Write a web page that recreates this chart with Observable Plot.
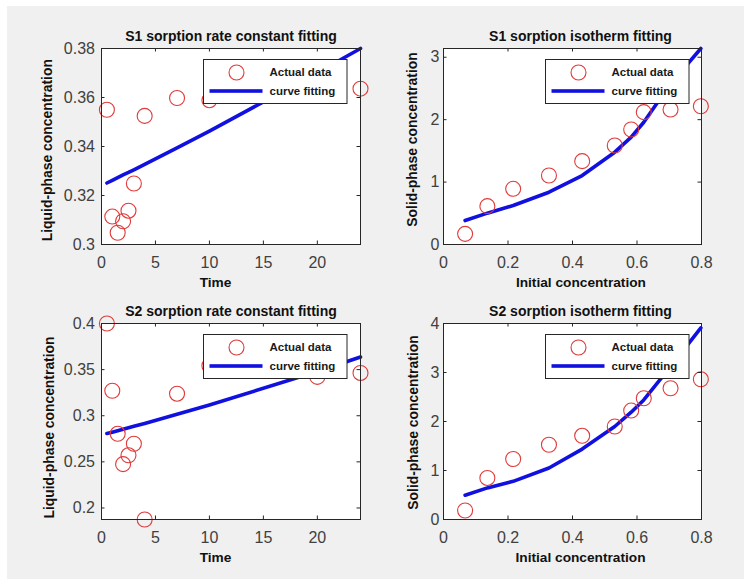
<!DOCTYPE html>
<html>
<head>
<meta charset="utf-8">
<script src="https://cdn.jsdelivr.net/npm/d3@7"></script>
<script src="https://cdn.jsdelivr.net/npm/@observablehq/plot@0.6"></script>
<style>
html, body { margin: 0; padding: 0; background: #ffffff; }
#fig { position: absolute; left: 7px; top: 6px; width: 737px; height: 573px; background: #f0f0f0; }
.panel { position: absolute; width: 376px; height: 290px; }
</style>
</head>
<body>
<div id="fig"></div>
<div id="p1" class="panel" style="left:0px;top:0px"></div>
<div id="p2" class="panel" style="left:376px;top:0px"></div>
<div id="p3" class="panel" style="left:0px;top:275px"></div>
<div id="p4" class="panel" style="left:376px;top:275px"></div>
<script>
// ---- data ----
const time = [0.5, 1, 1.5, 2, 2.5, 3, 4, 7, 10, 20, 24];
const s1Liquid = [0.355, 0.3114, 0.3048, 0.3095, 0.3138, 0.3249, 0.3525, 0.3598, 0.3589, 0.367, 0.3636];
const s1RateFit = [0.3251, 0.3262, 0.3273, 0.3284, 0.3294, 0.3305, 0.3327, 0.3394, 0.3463, 0.3701, 0.3800];
const s2Liquid = [0.400, 0.3271, 0.2804, 0.2475, 0.2571, 0.2696, 0.1875, 0.3239, 0.3543, 0.3421, 0.3464];
const s2RateFit = [0.2807, 0.2822, 0.2838, 0.2854, 0.2869, 0.2885, 0.2917, 0.3015, 0.3117, 0.3479, 0.3636];

const initialConc = [0.067, 0.136, 0.216, 0.327, 0.43, 0.531, 0.582, 0.621, 0.704, 0.798];
const s1Solid = [0.171, 0.614, 0.892, 1.105, 1.335, 1.586, 1.842, 2.12, 2.162, 2.215];
const s1IsoFit = [0.384, 0.502, 0.625, 0.838, 1.105, 1.479, 1.719, 1.959, 2.574, 3.14];
const s2Solid = [0.183, 0.848, 1.234, 1.525, 1.708, 1.898, 2.223, 2.475, 2.678, 2.861];
const s2IsoFit = [0.495, 0.645, 0.779, 1.05, 1.437, 1.898, 2.19, 2.44, 3.118, 3.911];

const timeTicks = [0, 5, 10, 15, 20];
const concTicks = [0, 0.2, 0.4, 0.6, 0.8];
const s1LiquidTicks = [0.3, 0.32, 0.34, 0.36, 0.38];
const s2LiquidTicks = [0.2, 0.25, 0.3, 0.35, 0.4];
const s1SolidTicks = [0, 1, 2, 3];
const s2SolidTicks = [0, 1, 2, 3, 4];

const titles = ["S1 sorption rate constant fitting", "S1 sorption isotherm fitting",
                "S2 sorption rate constant fitting", "S2 sorption isotherm fitting"];
const xLabels = ["Time", "Initial concentration"];
const yLabels = ["Liquid-phase concentration", "Solid-phase concentration"];
const legendLabels = ["Actual data", "curve fitting"];

// ---- styles ----
const RED = "#e03a3a";
const BLUE = "#1010e0";
const AXIS = "#262626";
const TICKTXT = "#404040";
const FONT = "'Liberation Sans', Arial, Helvetica, sans-serif";

function panel(el, cfg) {
  const W = 376, H = 290;
  const mL = cfg.left ? 101 : 67, mR = cfg.left ? 16 : 51, mT = 48, mB = 46;
  const fw = W - mL - mR, fh = H - mT - mB;
  const rows = cfg.xs.map((x, i) => ({x, obs: cfg.obs[i], fit: cfg.fit[i]}));
  const L = 102, T = 11, LW = 143.5, LH = 44;
  const chart = Plot.plot({
    width: W, height: H,
    marginLeft: mL, marginRight: mR, marginTop: mT, marginBottom: mB,
    style: {fontFamily: FONT, background: "transparent", overflow: "visible"},
    x: {domain: cfg.xDomain, label: null},
    y: {domain: cfg.yDomain, label: null},
    marks: [
      Plot.frame({fill: "white", stroke: "none"}),
      Plot.line(rows, {x: "x", y: "fit", stroke: BLUE, strokeWidth: 3.6, curve: "linear"}),
      Plot.dot(rows, {x: "x", y: "obs", r: 7.5, stroke: RED, strokeWidth: 1.1, fill: "none"}),
      // legend
      Plot.frame({fill: "white", stroke: AXIS, strokeWidth: 1,
        insetLeft: L, insetRight: fw - L - LW, insetTop: T, insetBottom: fh - T - LH}),
      Plot.dot([0], {frameAnchor: "top-left", dx: L + 33, dy: T + 13, r: 7.5, stroke: RED, strokeWidth: 1.1, fill: "none"}),
      Plot.frame({fill: BLUE, stroke: "none",
        insetLeft: L + 6, insetRight: fw - L - 59, insetTop: T + 31.5 - 1.8, insetBottom: fh - T - 31.5 - 1.8}),
      Plot.text([legendLabels[0]], {text: d => d, frameAnchor: "top-left", dx: L + 66, dy: T + 13,
        textAnchor: "start", lineAnchor: "middle", fontWeight: "bold", fontSize: 11.5, fill: "#1a1a1a"}),
      Plot.text([legendLabels[1]], {text: d => d, frameAnchor: "top-left", dx: L + 66, dy: T + 31.5,
        textAnchor: "start", lineAnchor: "middle", fontWeight: "bold", fontSize: 11.5, fill: "#1a1a1a"}),
      // box
      Plot.frame({stroke: AXIS, strokeWidth: 1}),
      // inward ticks on all sides
      Plot.ruleX(cfg.xTicks, {x: d => d, insetTop: fh - 3.5, stroke: AXIS}),
      Plot.ruleX(cfg.xTicks, {x: d => d, insetBottom: fh - 3.5, stroke: AXIS}),
      Plot.ruleY(cfg.yTicks, {y: d => d, insetRight: fw - 3.5, stroke: AXIS}),
      Plot.ruleY(cfg.yTicks, {y: d => d, insetLeft: fw - 3.5, stroke: AXIS}),
      // tick labels
      Plot.axisX(cfg.xTicks, {tickSize: 0, tickPadding: 12, tickFormat: d => String(d),
        fontSize: 16, fill: TICKTXT, label: null}),
      Plot.axisY(cfg.yTicks, {tickSize: 0, tickPadding: cfg.left ? 6.5 : 4, tickFormat: d => String(d),
        fontSize: 16, fill: TICKTXT, label: null}),
      // title, axis labels
      Plot.text([cfg.title], {text: d => d, frameAnchor: "top", dx: cfg.titleDx, dy: -11.5,
        textAnchor: "middle", lineAnchor: "middle", fontWeight: "bold", fontSize: 14, fill: "#111"}),
      Plot.text([cfg.xLabel], {text: d => d, frameAnchor: "bottom", dx: cfg.xLabelDx, dy: 38.5,
        textAnchor: "middle", lineAnchor: "middle", fontWeight: "bold", fontSize: 13.7, fill: "#111"}),
      Plot.text([cfg.yLabel], {text: d => d, frameAnchor: "left", dx: cfg.yLabelDx, dy: cfg.yLabelDy,
        rotate: -90, textAnchor: "middle", lineAnchor: "middle", fontWeight: "bold", fontSize: 13.9, fill: "#111"})
    ]
  });
  document.getElementById(el).appendChild(chart);
}

panel("p1", {left: true, xs: time, obs: s1Liquid, fit: s1RateFit, xDomain: [0, 24], yDomain: [0.3, 0.38],
  xTicks: timeTicks, yTicks: s1LiquidTicks, title: titles[0], titleDx: 0, xLabel: xLabels[0], xLabelDx: -15.5,
  yLabel: yLabels[0], yLabelDx: -54.3, yLabelDy: 3.7});
panel("p2", {left: false, xs: initialConc, obs: s1Solid, fit: s1IsoFit, xDomain: [0, 0.8], yDomain: [0, 3.14],
  xTicks: concTicks, yTicks: s1SolidTicks, title: titles[1], titleDx: 8, xLabel: xLabels[1], xLabelDx: 8.4,
  yLabel: yLabels[1], yLabelDx: -30.7, yLabelDy: -7});
panel("p3", {left: true, xs: time, obs: s2Liquid, fit: s2RateFit, xDomain: [0, 24], yDomain: [0.1875, 0.4],
  xTicks: timeTicks, yTicks: s2LiquidTicks, title: titles[2], titleDx: 0, xLabel: xLabels[0], xLabelDx: -15.5,
  yLabel: yLabels[0], yLabelDx: -52, yLabelDy: 6});
panel("p4", {left: false, xs: initialConc, obs: s2Solid, fit: s2IsoFit, xDomain: [0, 0.8], yDomain: [0, 4],
  xTicks: concTicks, yTicks: s2SolidTicks, title: titles[3], titleDx: 8, xLabel: xLabels[1], xLabelDx: 8,
  yLabel: yLabels[1], yLabelDx: -30, yLabelDy: 1});
</script>
</body>
</html>
